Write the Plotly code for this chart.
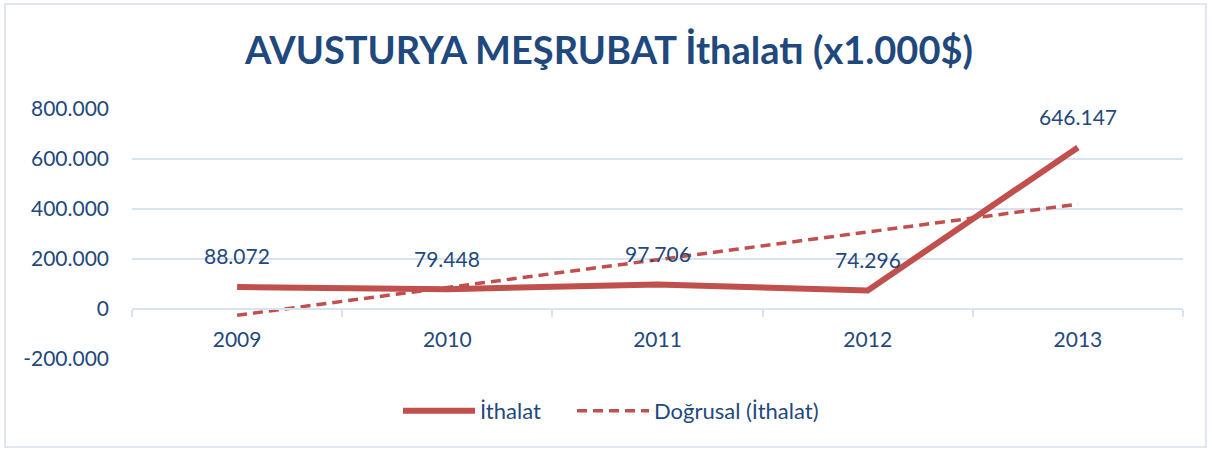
import numpy as np
import plotly.graph_objects as go

years = ["2009", "2010", "2011", "2012", "2013"]
ithalat = [88072, 79448, 97706, 74296, 646147]
y_tick_vals = [-200000, 0, 200000, 400000, 600000, 800000]
y_tick_text = ["-200.000", "0", "200.000", "400.000", "600.000", "800.000"]
title_text = "AVUSTURYA MEŞRUBAT İthalatı (x1.000$)"
series_name = "İthalat"
trend_name = "Doğrusal (İthalat)"

RED = "#C0504D"
BLUE_TXT = "#1F497D"
GRID = "#D9E2F1"
FONT = "Lato"

# Linear trendline (least squares), as in the spreadsheet's "Doğrusal" trendline
xi = np.arange(1, len(ithalat) + 1)
slope, intercept = np.polyfit(xi, ithalat, 1)
trend = slope * xi + intercept

def fmt(v):
    return f"{v:,}".replace(",", ".")

fig = go.Figure()
fig.add_trace(go.Scatter(
    x=years, y=ithalat, name=series_name, mode="lines",
    line=dict(color=RED, width=6), legend="legend",
))
fig.add_trace(go.Scatter(
    x=years, y=trend, name=trend_name, mode="lines",
    line=dict(color=RED, width=3.5, dash="10px,6px"), legend="legend2",
))

for i, v in enumerate(ithalat):
    fig.add_annotation(x=i, y=v, xref="x", yref="y", text=fmt(v), showarrow=False,
                       yshift=31, font=dict(family=FONT, size=21, color=BLUE_TXT))

# outer chart border
fig.add_shape(type="rect", xref="paper", yref="paper",
              x0=(5 - 132) / 1051, x1=(1206 - 132) / 1051,
              y0=(359 - 447) / 250, y1=(359 - 4) / 250,
              line=dict(color="#D6E0EE", width=1.5), fillcolor="rgba(0,0,0,0)")

leg_common = dict(orientation="h", xanchor="left", yanchor="middle",
                  y=(359 - 411) / 250, bgcolor="rgba(0,0,0,0)",
                  font=dict(family=FONT, size=22, color=BLUE_TXT), itemwidth=72)

fig.update_layout(
    width=1212, height=451,
    margin=dict(l=132, r=29, t=109, b=92),
    paper_bgcolor="white", plot_bgcolor="white",
    title=dict(text="<b>" + title_text + "</b>", x=(609 - 132) / 1051, xref="paper",
               xanchor="center", y=1 - 51 / 451, yanchor="middle",
               font=dict(family=FONT, size=38, color=BLUE_TXT)),
    font=dict(family=FONT, size=21, color=BLUE_TXT),
    showlegend=True,
    legend=dict(x=(398 - 132) / 1051, **leg_common),
    legend2=dict(x=(572 - 132) / 1051, **leg_common),
    xaxis=dict(type="category", range=[-0.5, 4.5], anchor="free", position=0.2,
               showline=True, linecolor=GRID, linewidth=2,
               ticks="outside", tickson="boundaries", ticklen=7, tickcolor=GRID,
               tickwidth=2, showgrid=False, ticklabelstandoff=12,
               tickfont=dict(family=FONT, size=21, color=BLUE_TXT)),
    yaxis=dict(range=[-200000, 800000], tickvals=y_tick_vals, ticktext=y_tick_text,
               showgrid=True, gridcolor=GRID, gridwidth=2, zeroline=False,
               showline=False, ticks="", ticklabelstandoff=22,
               tickfont=dict(family=FONT, size=21, color=BLUE_TXT)),
)

fig.write_html("out.html", config={"displayModeBar": False},
               post_script="document.body.style.margin='0';")
